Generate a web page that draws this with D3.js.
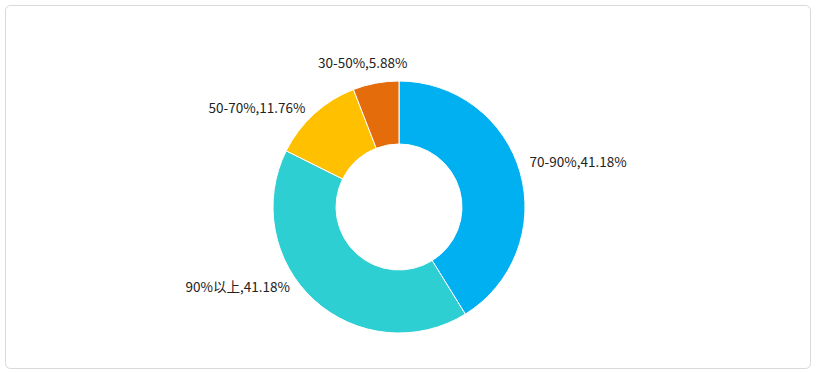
<!DOCTYPE html>
<html>
<head>
<meta charset="utf-8">
<script src="https://cdn.jsdelivr.net/npm/d3@7"></script>
<style>
  html, body { margin: 0; padding: 0; background: #fff; }
  svg text { font-family: "Noto Sans CJK SC", "Noto Sans", sans-serif; font-size: 13.5px; fill: #222; }
</style>
</head>
<body>
<script>
// slices, clockwise from 12 o'clock
const categories = ["70-90%", "90%以上", "50-70%", "30-50%"];
const counts = [7, 7, 2, 1];
const percentLabels = ["41.18%", "41.18%", "11.76%", "5.88%"];
const colors = ["#00b0f0", "#2ecfd3", "#ffc000", "#e46c0a"];
// small angle tweak (degrees) for where each label sits
const labelTweak = [-3, 12, -2, -4];

const width = 816, height = 373;
const cx = 399, cy = 207;
const outerR = 126, innerR = 63;

const svg = d3.select("body").append("svg")
  .attr("width", width)
  .attr("height", height);

svg.append("rect")
  .attr("x", 5.5).attr("y", 5.5)
  .attr("width", 805).attr("height", 363)
  .attr("rx", 5).attr("ry", 5)
  .attr("fill", "#fff")
  .attr("stroke", "#d9d9d9");

const data = categories.map((c, i) => ({name: c, value: counts[i], pct: percentLabels[i], i: i}));

const pie = d3.pie().value(d => d.value).sort(null);
const arc = d3.arc().innerRadius(innerR).outerRadius(outerR);

const g = svg.append("g").attr("transform", "translate(" + cx + "," + cy + ")");

const arcs = pie(data);

g.selectAll(".slice")
  .data(arcs)
  .enter().append("path")
  .attr("class", "slice")
  .attr("d", arc)
  .attr("fill", d => colors[d.data.i])
  .attr("stroke", "#fff")
  .attr("stroke-width", 1);

const labelR = 138;
g.selectAll(".lbl")
  .data(arcs)
  .enter().append("text")
  .attr("class", "lbl")
  .each(function(d) {
    const a = (d.startAngle + d.endAngle) / 2 + labelTweak[d.data.i] * Math.PI / 180;
    const sx = Math.sin(a), cyv = -Math.cos(a);
    let anchor = "middle", r = labelR, dy = "0.35em";
    if (sx > 0.3) anchor = "start";
    else if (sx < -0.3) anchor = "end";
    else { r = labelR + 6; dy = "0em"; }
    d3.select(this)
      .attr("x", sx * r + (anchor === "end" ? 3 : 0))
      .attr("y", cyv * r)
      .attr("dy", dy)
      .attr("text-anchor", anchor)
      .text(d.data.name + "," + d.data.pct);
  });
</script>
</body>
</html>
